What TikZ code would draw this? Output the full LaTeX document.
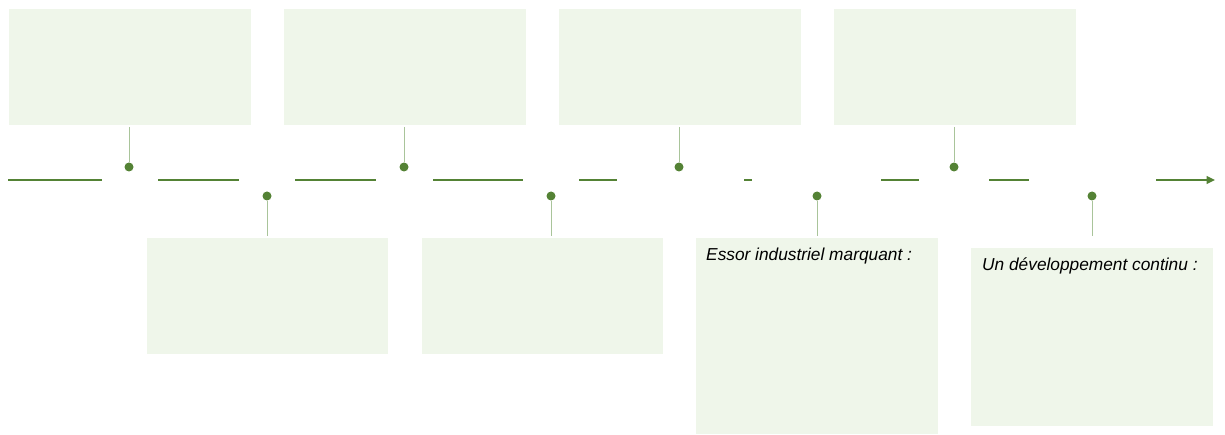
\documentclass[tikz,border=0pt]{standalone}
\usepackage{fontspec}
\setmainfont{Liberation Sans}
\usetikzlibrary{arrows.meta}
\definecolor{boxfill}{HTML}{EFF6EA}
\definecolor{tgreen}{HTML}{548235}
\definecolor{lgreen}{HTML}{A9C49A}
\begin{document}
\begin{tikzpicture}[x=1pt,y=-1pt,
  evbox/.style={fill=boxfill,draw=none,inner sep=0pt,anchor=north west},
  dotn/.style={circle,fill=tgreen,draw=none,minimum size=9pt,inner sep=0pt},
  tline/.style={draw=tgreen,line width=1.6pt},
  conn/.style={draw=lgreen,line width=1pt},
  btext/.style={anchor=base west,font=\fontsize{17.3}{20}\selectfont\itshape,inner sep=0pt}]
\useasboundingbox (0,0) rectangle (1225,435);
% top boxes
\node[evbox,minimum width=242pt,minimum height=116pt] (t1) at (9,9) {};
\node[evbox,minimum width=242pt,minimum height=116pt] (t2) at (284,9) {};
\node[evbox,minimum width=242pt,minimum height=116pt] (t3) at (559,9) {};
\node[evbox,minimum width=242pt,minimum height=116pt] (t4) at (834,9) {};
% bottom boxes
\node[evbox,minimum width=241pt,minimum height=116pt] (b1) at (147,238) {};
\node[evbox,minimum width=241pt,minimum height=116pt] (b2) at (422,238) {};
\node[evbox,minimum width=242pt,minimum height=196pt] (b3) at (696,238) {};
\node[evbox,minimum width=242pt,minimum height=178pt] (b4) at (971,248) {};
\node[btext] (l3) at (706,261) {Essor industriel marquant :};
\node[btext] (l4) at (982,271) {Un développement continu :};
% timeline
\coordinate (s1a) at (8,180); \coordinate (s1b) at (102,180);
\coordinate (s2a) at (158,180); \coordinate (s2b) at (239,180);
\coordinate (s3a) at (295,180); \coordinate (s3b) at (376,180);
\coordinate (s4a) at (433,180); \coordinate (s4b) at (523,180);
\coordinate (s5a) at (579,180); \coordinate (s5b) at (617,180);
\coordinate (s6a) at (744,180); \coordinate (s6b) at (752,180);
\coordinate (s7a) at (881,180); \coordinate (s7b) at (919,180);
\coordinate (s8a) at (989,180); \coordinate (s8b) at (1029,180);
\coordinate (s9a) at (1156,180); \coordinate (s9b) at (1215,180);
\draw[tline] (s1a) -- (s1b);
\draw[tline] (s2a) -- (s2b);
\draw[tline] (s3a) -- (s3b);
\draw[tline] (s4a) -- (s4b);
\draw[tline] (s5a) -- (s5b);
\draw[tline] (s6a) -- (s6b);
\draw[tline] (s7a) -- (s7b);
\draw[tline] (s8a) -- (s8b);
\draw[tline,-{Triangle[length=8.5pt,width=8pt]}] (s9a) -- (s9b);
% dots
\node[dotn] (d1) at (129,167) {};
\node[dotn] (d2) at (267,196) {};
\node[dotn] (d3) at (404,167) {};
\node[dotn] (d4) at (551,196) {};
\node[dotn] (d5) at (679,167) {};
\node[dotn] (d6) at (817,196) {};
\node[dotn] (d7) at (954,167) {};
\node[dotn] (d8) at (1092,196) {};
% connectors
\coordinate (c1) at (129,127);
\coordinate (c3) at (404,127);
\coordinate (c5) at (679,127);
\coordinate (c7) at (954,127);
\coordinate (c2) at (267,236);
\coordinate (c4) at (551,236);
\coordinate (c6) at (817,236);
\coordinate (c8) at (1092,236);
\draw[conn] (c1) -- (d1);
\draw[conn] (c3) -- (d3);
\draw[conn] (c5) -- (d5);
\draw[conn] (c7) -- (d7);
\draw[conn] (d2) -- (c2);
\draw[conn] (d4) -- (c4);
\draw[conn] (d6) -- (c6);
\draw[conn] (d8) -- (c8);
\end{tikzpicture}
\end{document}
